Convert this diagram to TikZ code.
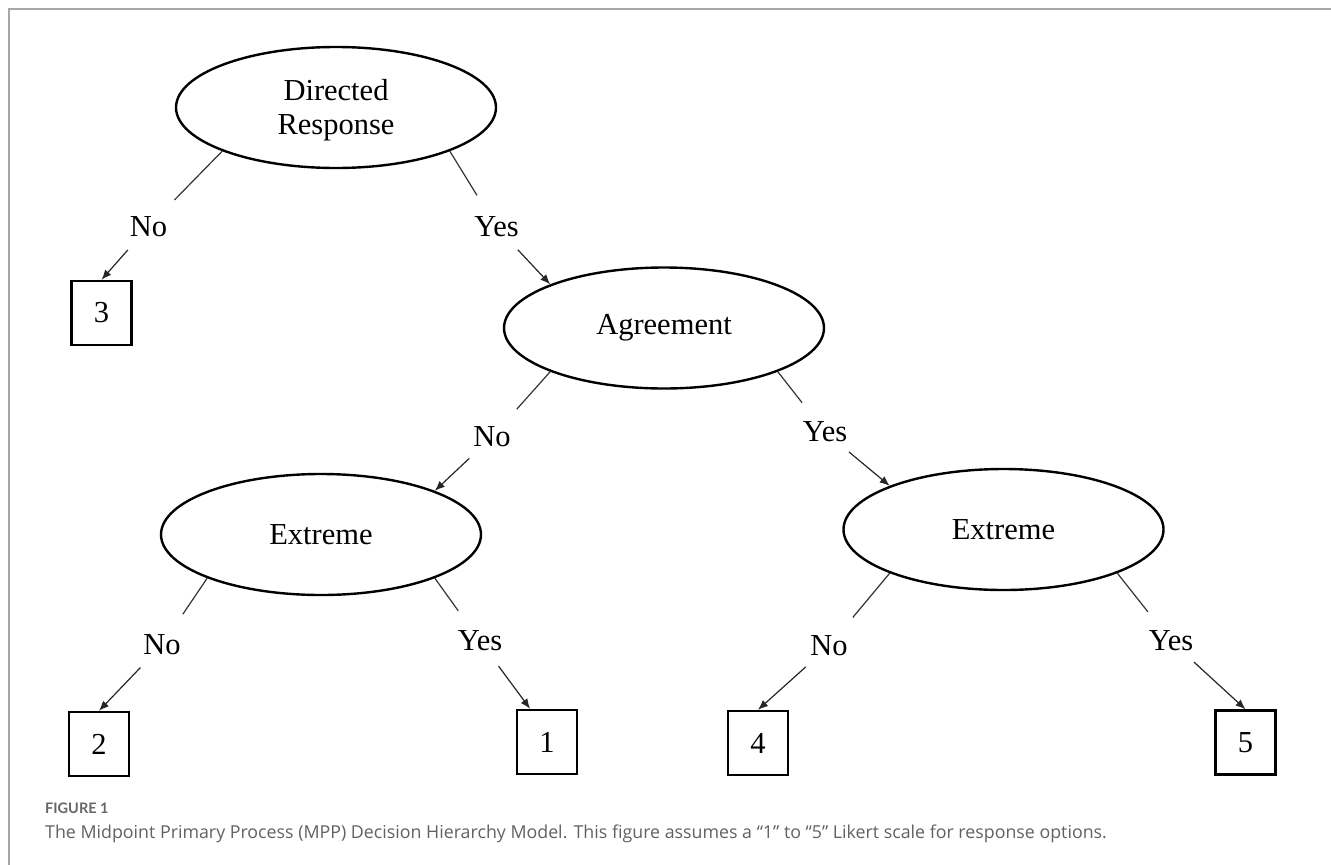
\documentclass[tikz,border=0pt]{standalone}
\usepackage{fontspec}
\setmainfont{Liberation Serif}
\newfontfamily\capfont{Open Sans}
\newfontfamily\figfont{Lato}
\usetikzlibrary{shapes.geometric,arrows.meta}
\begin{document}
\begin{tikzpicture}[x=1pt,y=-1pt,
  txt/.style={font=\fontsize{30.5}{34}\selectfont},
  ell/.style={ellipse,draw,line width=2.4pt,minimum width=320pt,minimum height=121pt,inner sep=0pt,txt,align=center},
  lab/.style={circle,minimum size=62pt,inner sep=0pt,txt},
  numbox/.style={rectangle,draw,line width=2.4pt,minimum width=60pt,minimum height=64pt,inner sep=0pt,txt},
  conn/.style={draw=black!80,line width=1.2pt,shorten >=6pt},
  arr/.style={draw=black!85,line width=1.2pt,-{Latex[length=10pt,width=8pt]}},
  frame/.style={draw=black!35,line width=1.8pt}]
\useasboundingbox (0,0) rectangle (1331,865);
\draw[frame] (9,865) -- (9,9) -- (1331,9);

% ellipses
\node[ell] (dr) at (336,107.5) {\rule{0pt}{27pt}Directed\\Response};
\node[ell] (ag) at (664,328) {Agreement};
\node[ell] (exl) at (321,534.5) {Extreme};
\node[ell] (exr) at (1003.5,529.5) {Extreme};

% boxes
\node[numbox] (b3) at (101.5,313) {3};
\node[numbox] (b2) at (99,744) {2};
\node[numbox] (b1) at (547,742) {1};
\node[numbox] (b4) at (758,743) {4};
\node[numbox] (b5) at (1245.5,742.5) {5};

% labels
\node[lab] (n1) at (148.5,226.5) {No};
\node[lab] (y1) at (496.5,227) {Yes};
\node[lab] (n2) at (492,437) {No};
\node[lab] (y2) at (825,432) {Yes};
\node[lab] (n3) at (162,645) {No};
\node[lab] (y3) at (480,641) {Yes};
\node[lab] (n4) at (829,646) {No};
\node[lab] (y4) at (1171,641) {Yes};

% connectors
\draw[conn] (dr.201) -- (n1);
\draw[arr] (n1) -- (b3.north);
\draw[conn] (dr.339) -- (y1);
\draw[arr] (y1) -- (ag.159);

\draw[conn] (ag.201) -- (n2);
\draw[arr] (n2) -- (exl.21);
\draw[conn] (ag.339) -- (y2);
\draw[arr] (y2) -- (exr.159);

\draw[conn] (exl.201) -- (n3);
\draw[arr] (n3) -- (b2.north);
\draw[conn] (exl.339) -- (y3);
\draw[arr] (y3) -- (b1.117);

\draw[conn] (exr.201) -- (n4);
\draw[arr] (n4) -- (b4.north);
\draw[conn] (exr.339) -- (y4);
\draw[arr] (y4) -- (b5.north);

% caption
\node[anchor=base west,inner sep=0pt,text=black!60,font=\figfont\bfseries\fontsize{14.5}{16}\selectfont] (fig) at (45,813) {FIGURE 1};
\node[anchor=base west,inner sep=0pt,text=black!62,font=\capfont\fontsize{17.8}{21}\selectfont] (cap) at (45,838) {The Midpoint Primary Process (MPP) Decision Hierarchy Model. This figure assumes a “1” to “5” Likert scale for response options.};
\end{tikzpicture}
\end{document}
